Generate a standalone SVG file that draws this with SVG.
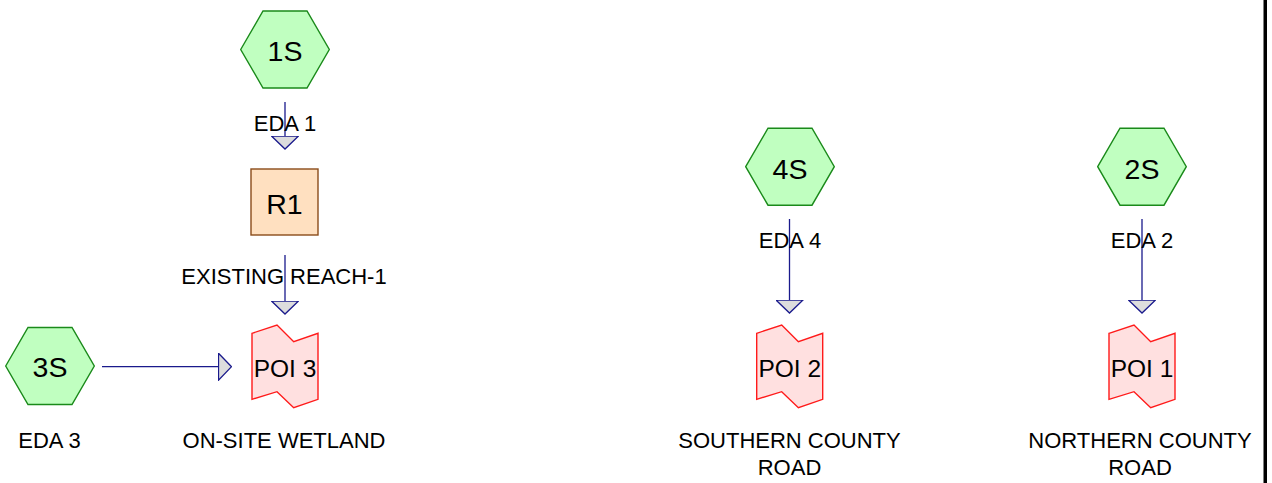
<svg xmlns="http://www.w3.org/2000/svg" xmlns:xlink="http://www.w3.org/1999/xlink" width="1272" height="483" viewBox="0 0 1272 483">
<style>
.hex{fill:#C0FFC0;stroke:#1A8A1A;stroke-width:1.4}
.reach{fill:#FFE0C0;stroke:#8B4C1A;stroke-width:1.4}
.poi{fill:#FFE0E0;stroke:#FF1A1A;stroke-width:1.4}
.lbl{font-family:"Liberation Sans",Arial,sans-serif;fill:#000;text-anchor:middle}
.nl{font-size:28.5px}
.pl{font-size:24.5px}
.el{font-size:22px}
.conn{stroke:#1A1A8C;stroke-width:1.3;fill:none;marker-end:url(#arr)}
</style>
<defs>
<marker id="arr" viewBox="0 0 14 28" refX="0.5" refY="14" markerWidth="14" markerHeight="28" markerUnits="userSpaceOnUse" orient="auto">
<path d="M0.5,0.5 L13.5,14 L0.5,27.5 Z" fill="#DDDDDD" stroke="#1A1A8C" stroke-width="1.3"/>
</marker>
<polygon id="hexshape" points="-44.3,0 -22,-38.5 22,-38.5 44.3,0 22,38.5 -22,38.5"/>
<polygon id="poishape" points="-33,0 -8,-8.3 8.7,8.4 33,0 33,66 8.7,74.4 -8,58.4 -33,66"/>
</defs>
<rect x="1263.5" y="0" width="3.5" height="483" fill="#000"/>
<g id="connectors">
<line class="conn" x1="285" y1="102" x2="285" y2="136"/>
<line class="conn" x1="285" y1="255" x2="285" y2="301"/>
<line class="conn" x1="102" y1="366.7" x2="218.5" y2="366.7"/>
<line class="conn" x1="789.5" y1="219" x2="789.5" y2="300"/>
<line class="conn" x1="1142" y1="219" x2="1142" y2="300"/>
<text class="lbl el" x="285" y="131">EDA 1</text>
<text class="lbl el" x="284" y="284">EXISTING REACH-1</text>
<text class="lbl el" x="790" y="248">EDA 4</text>
<text class="lbl el" x="1142" y="248">EDA 2</text>
</g>
<g id="n1S">
<use xlink:href="#hexshape" class="hex" transform="translate(285,49.5)"/>
<text class="lbl nl" x="285" y="61">1S</text>
</g>
<g id="nR1">
<rect class="reach" x="251" y="169" width="67" height="66"/>
<text class="lbl nl" x="284.5" y="214">R1</text>
</g>
<g id="n3S">
<use xlink:href="#hexshape" class="hex" transform="translate(50,366)"/>
<text class="lbl nl" x="50" y="377">3S</text>
<text class="lbl el" x="49.5" y="448">EDA 3</text>
</g>
<g id="nPOI3">
<use xlink:href="#poishape" class="poi" transform="translate(285,333.3)"/>
<text class="lbl pl" x="285" y="376.7">POI 3</text>
<text class="lbl el" x="284" y="448">ON-SITE WETLAND</text>
</g>
<g id="n4S">
<use xlink:href="#hexshape" class="hex" transform="translate(790,166.7)"/>
<text class="lbl nl" x="790" y="179.3">4S</text>
</g>
<g id="nPOI2">
<use xlink:href="#poishape" class="poi" transform="translate(789.7,333.3)"/>
<text class="lbl pl" x="789.7" y="376.7">POI 2</text>
<text class="lbl el" x="789.5" y="448">SOUTHERN COUNTY</text>
<text class="lbl el" x="789.5" y="475">ROAD</text>
</g>
<g id="n2S">
<use xlink:href="#hexshape" class="hex" transform="translate(1142,166.7)"/>
<text class="lbl nl" x="1142" y="179.3">2S</text>
</g>
<g id="nPOI1">
<use xlink:href="#poishape" class="poi" transform="translate(1142,333.3)"/>
<text class="lbl pl" x="1142" y="376.7">POI 1</text>
<text class="lbl el" x="1140" y="448">NORTHERN COUNTY</text>
<text class="lbl el" x="1140" y="475">ROAD</text>
</g>
</svg>
